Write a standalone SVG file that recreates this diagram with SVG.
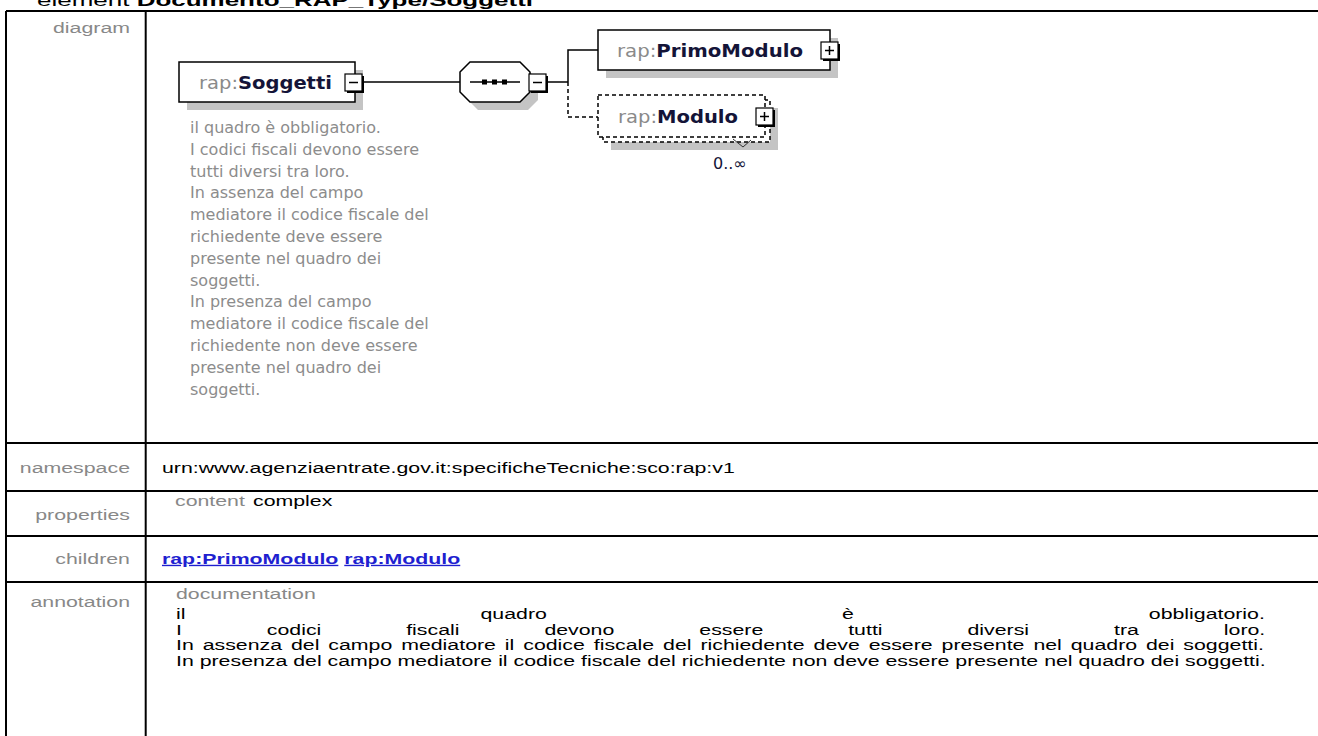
<svg xmlns="http://www.w3.org/2000/svg" width="1318" height="736" viewBox="0 0 1318 736">
<style>
.tbl{stroke:#000;stroke-width:2;fill:none}
.lbl{font-family:"Liberation Sans",Arial,sans-serif;font-size:21.33px;fill:#888;text-anchor:end}
.txt{font-family:"Liberation Sans",Arial,sans-serif;font-size:21.33px;fill:#000}
.sub{fill:#888}
.link{font-weight:bold;fill:#1f1fd0;text-decoration:underline}
.box{fill:#fff;stroke:#000;stroke-width:1.5}
.dash{stroke-dasharray:4 3}
.shadow{fill:#c4c4c4}
.nm{font-family:"DejaVu Sans",Verdana,sans-serif;font-size:18px}
.pre{fill:#8a8a8a}
.loc{fill:#141438;font-weight:bold}
.note{font-family:"DejaVu Sans",Verdana,sans-serif;font-size:16px;fill:#8c8c8c}
.conn{stroke:#000;stroke-width:1.5;fill:none}
.pm{fill:#fff;stroke:#000;stroke-width:1.2}
.pms{fill:#000}
.sign{stroke:#000;stroke-width:1.5}
</style>
<rect width="1318" height="736" fill="#fff"/>
<text transform="matrix(1 0 0 0.65 0 6)" x="37" y="0" font-family="Liberation Sans, Arial, sans-serif" font-size="26">element <tspan font-weight="bold">Documento_RAP_Type/Soggetti</tspan></text>
<g id="table">
<line class="tbl" x1="6" y1="11" x2="1318" y2="11"/>
<line class="tbl" x1="6" y1="11" x2="6" y2="736"/>
<line class="tbl" x1="145.7" y1="11" x2="145.7" y2="736"/>
<line class="tbl" x1="6" y1="443" x2="1318" y2="443"/>
<line class="tbl" x1="6" y1="491" x2="1318" y2="491"/>
<line class="tbl" x1="6" y1="536" x2="1318" y2="536"/>
<line class="tbl" x1="6" y1="582" x2="1318" y2="582"/>
<text class="lbl" transform="matrix(1 0 0 0.65 0 33)" x="130" y="0">diagram</text>
<text class="lbl" transform="matrix(1 0 0 0.65 0 473)" x="130" y="0">namespace</text>
<text class="lbl" transform="matrix(1 0 0 0.65 0 520)" x="130" y="0">properties</text>
<text class="lbl" transform="matrix(1 0 0 0.65 0 564)" x="130" y="0">children</text>
<text class="lbl" transform="matrix(1 0 0 0.65 0 607)" x="130" y="0">annotation</text>
<text class="txt" transform="matrix(1 0 0 0.65 0 473)" x="162" y="0">urn:www.agenziaentrate.gov.it:specificheTecniche:sco:rap:v1</text>
<text class="txt sub" transform="matrix(1 0 0 0.65 0 506)" x="175" y="0">content</text>
<text class="txt" transform="matrix(1 0 0 0.65 0 506)" x="253" y="0">complex</text>
<text class="txt" transform="matrix(1 0 0 0.65 0 564)" x="162" y="0"><tspan class="link">rap:PrimoModulo</tspan> <tspan class="link">rap:Modulo</tspan></text>
<text class="txt sub" transform="matrix(1 0 0 0.65 0 599)" x="176" y="0">documentation</text>
<text class="txt" transform="matrix(1 0 0 0.65 0 619)" y="0"><tspan x="176">il</tspan><tspan x="480.5">quadro</tspan><tspan x="841.9">è</tspan><tspan x="1148.8">obbligatorio.</tspan></text>
<text class="txt" transform="matrix(1 0 0 0.65 0 634.5)" y="0"><tspan x="176">I</tspan><tspan x="266.8">codici</tspan><tspan x="406.2">fiscali</tspan><tspan x="544.4">devono</tspan><tspan x="699.3">essere</tspan><tspan x="848.2">tutti</tspan><tspan x="967.5">diversi</tspan><tspan x="1114">tra</tspan><tspan x="1223.8">loro.</tspan></text>
<text class="txt" transform="matrix(1 0 0 0.65 0 650)" x="176" y="0" word-spacing="3">In assenza del campo mediatore il codice fiscale del richiedente deve essere presente nel quadro dei soggetti.</text>
<text class="txt" transform="matrix(1 0 0 0.65 0 665.5)" x="176" y="0">In presenza del campo mediatore il codice fiscale del richiedente non deve essere presente nel quadro dei soggetti.</text>
</g>
<g id="connectors">
<line class="conn" x1="363" y1="82" x2="460" y2="82"/>
<line class="conn" x1="547" y1="82" x2="568" y2="82"/>
<polyline class="conn" points="568,82 568,50 598,50"/>
<polyline class="conn dash" points="568,82 568,117 598,117"/>
</g>
<g id="node-soggetti">
<rect class="shadow" x="187" y="70" width="176" height="40"/>
<rect class="box" x="179" y="62" width="176" height="40"/>
<text class="nm" x="199" y="89" textLength="133" lengthAdjust="spacingAndGlyphs"><tspan class="pre">rap:</tspan><tspan class="loc">Soggetti</tspan></text>
<rect class="pms" x="347" y="76" width="17" height="17"/>
<rect class="pm" x="345" y="74" width="17" height="17"/>
<line class="sign" x1="349" y1="82.5" x2="358" y2="82.5"/>
<g class="note">
<text x="190" y="133">il quadro è obbligatorio.</text>
<text x="190" y="154.8">I codici fiscali devono essere</text>
<text x="190" y="176.6">tutti diversi tra loro.</text>
<text x="190" y="198.4">In assenza del campo</text>
<text x="190" y="220.2">mediatore il codice fiscale del</text>
<text x="190" y="242">richiedente deve essere</text>
<text x="190" y="263.8">presente nel quadro dei</text>
<text x="190" y="285.6">soggetti.</text>
<text x="190" y="307.4">In presenza del campo</text>
<text x="190" y="329.2">mediatore il codice fiscale del</text>
<text x="190" y="351">richiedente non deve essere</text>
<text x="190" y="372.8">presente nel quadro dei</text>
<text x="190" y="394.6">soggetti.</text>
</g>
</g>
<g id="node-sequence">
<polygon class="shadow" points="468,80 478,70 528,70 538,80 538,100 528,110 478,110 468,100"/>
<polygon class="box" points="460,72 470,62 520,62 530,72 530,92 520,102 470,102 460,92"/>
<line class="conn" x1="470" y1="82" x2="520" y2="82"/>
<rect x="482" y="79.5" width="5" height="5" fill="#000"/>
<rect x="492" y="79.5" width="5" height="5" fill="#000"/>
<rect x="502" y="79.5" width="5" height="5" fill="#000"/>
<rect class="pms" x="531" y="76" width="17" height="17"/>
<rect class="pm" x="529" y="74" width="17" height="17"/>
<line class="sign" x1="533" y1="82.5" x2="542" y2="82.5"/>
</g>
<g id="node-primomodulo">
<rect class="shadow" x="606" y="38" width="232" height="40"/>
<rect class="box" x="598" y="30" width="232" height="40"/>
<text class="nm" x="617" y="57" textLength="186" lengthAdjust="spacingAndGlyphs"><tspan class="pre">rap:</tspan><tspan class="loc">PrimoModulo</tspan></text>
<rect class="pms" x="823" y="44" width="17" height="17"/>
<rect class="pm" x="821" y="42" width="17" height="17"/>
<line class="sign" x1="825" y1="50.5" x2="834" y2="50.5"/>
<line class="sign" x1="829.5" y1="46" x2="829.5" y2="55"/>
</g>
<g id="node-modulo">
<rect class="shadow" x="611" y="108" width="167" height="42"/>
<rect class="box dash" x="603" y="100" width="167" height="42"/>
<rect class="box dash" x="598" y="95" width="167" height="42"/>
<text class="nm" x="618" y="123" textLength="120" lengthAdjust="spacingAndGlyphs"><tspan class="pre">rap:</tspan><tspan class="loc">Modulo</tspan></text>
<rect class="pms" x="758" y="110" width="17" height="17"/>
<rect class="pm" x="756" y="108" width="17" height="17"/>
<line class="sign" x1="760" y1="116.5" x2="769" y2="116.5"/>
<line class="sign" x1="764.5" y1="112" x2="764.5" y2="121"/>
<polyline points="733,139 743,147 751,140" fill="none" stroke="#333" stroke-width="1"/>
<text x="713" y="169" font-family="DejaVu Sans, Verdana, sans-serif" font-size="16" fill="#141438">0..∞</text>
</g>
</svg>
